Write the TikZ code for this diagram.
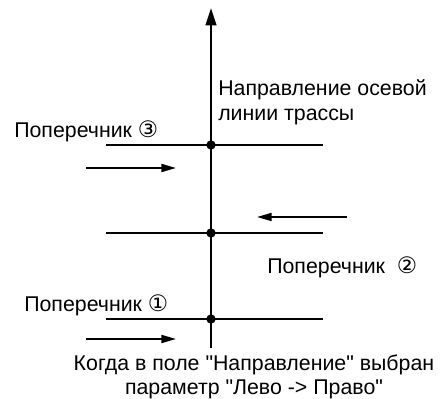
\documentclass[tikz,border=0pt]{standalone}
\usepackage{fontspec}
\newfontfamily\labelfont{Liberation Sans}
\newfontfamily\symfont{DejaVu Sans}
\usetikzlibrary{arrows.meta, positioning}

\begin{document}
\begin{tikzpicture}[x=0.75pt, y=-0.75pt,
    axisline/.style={line width=1.8pt, -{Triangle[length=13pt, width=8pt]}},
    crossline/.style={line width=0.9pt},
    dirarrow/.style={line width=1.4pt, -{Triangle[length=11pt, width=6pt]}},
    dot/.style={circle, fill=black, inner sep=0pt, minimum size=7pt},
    lbl/.style={font=\labelfont\fontsize{16}{18.5}\selectfont, inner sep=0pt}]

    \useasboundingbox (0,0) rectangle (447,399);

    % =================================================================
    % 1. ОСЕВАЯ ЛИНИЯ ТРАССЫ
    % =================================================================
    \coordinate (axb) at (211,348);
    \coordinate (axt) at (211,8);
    \draw[axisline] (axb) -- (axt);

    \node[lbl, anchor=west, align=left] (axtext) at (218,102)
        {Направление осевой\\линии трассы};

    % =================================================================
    % 2. ПОПЕРЕЧНИКИ
    % =================================================================
    \foreach \n/\y in {3/145, 2/233, 1/319} {
        \coordinate (l\n) at (106,\y);
        \coordinate (r\n) at (323,\y);
        \draw[crossline] (l\n) -- (r\n);
        \node[dot] (p\n) at (211,\y) {};
    }

    \node[lbl, anchor=west] (t3) at (14,131) {Поперечник {\symfont\fontsize{17}{18}\selectfont ③}};
    \node[lbl, anchor=west] (t2) at (267,267) {Поперечник \ {\symfont\fontsize{17}{18}\selectfont ②}};
    \node[lbl, anchor=west] (t1) at (24,305) {Поперечник {\symfont\fontsize{17}{18}\selectfont ①}};

    % =================================================================
    % 3. НАПРАВЛЕНИЯ
    % =================================================================
    \coordinate (a3s) at (86,168);  \coordinate (a3e) at (176,168);
    \coordinate (a2s) at (347,217); \coordinate (a2e) at (257,217);
    \coordinate (a1s) at (86,339);  \coordinate (a1e) at (176,339);
    \draw[dirarrow] (a3s) -- (a3e);
    \draw[dirarrow] (a2s) -- (a2e);
    \draw[dirarrow] (a1s) -- (a1e);

    % Подпись внизу
    \node[lbl, align=center] (note) at (254,377)
        {Когда в поле "Направление" выбран\\параметр "Лево -> Право"};

\end{tikzpicture}
\end{document}
